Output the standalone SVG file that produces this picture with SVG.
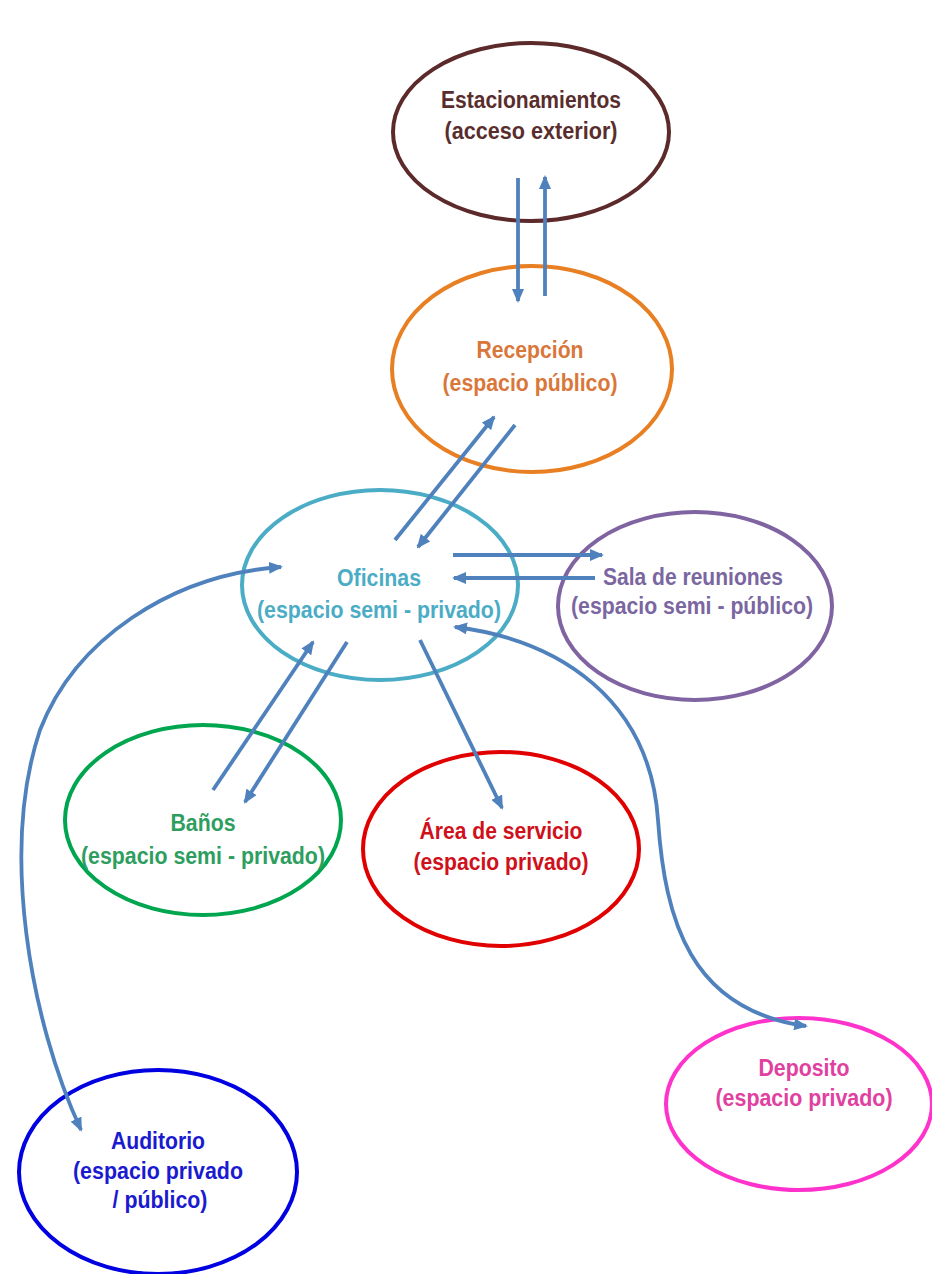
<svg xmlns="http://www.w3.org/2000/svg" width="932" height="1274" viewBox="0 0 932 1274">
<style>
.n{fill:none;stroke-width:4}
.t{font-family:"Liberation Sans Narrow","Arial Narrow","Liberation Sans",Arial,sans-serif;font-weight:bold;font-size:23px;text-anchor:middle}
.c{fill:none;stroke:#4f81bd;stroke-width:3.8;marker-end:url(#ah)}
.d{fill:none;stroke:#4f81bd;stroke-width:3.8;marker-end:url(#ah);marker-start:url(#ah)}
</style>
<defs>
<marker id="ah" markerUnits="userSpaceOnUse" viewBox="0 0 14 12" markerWidth="14" markerHeight="12" refX="12" refY="6" orient="auto-start-reverse">
<path d="M0,0 L14,6 L0,12 z" fill="#4f81bd"/>
</marker>
</defs>
<rect width="932" height="1274" fill="#ffffff"/>
<g id="estacionamientos">
<ellipse class="n" cx="531" cy="132" rx="138" ry="89" stroke="#5c2a2a"/>
<text class="t" x="531" y="108" fill="#5a2d2d" textLength="180" lengthAdjust="spacingAndGlyphs">Estacionamientos</text>
<text class="t" x="531" y="139" fill="#5a2d2d" textLength="173" lengthAdjust="spacingAndGlyphs">(acceso exterior)</text>
</g>
<g id="recepcion">
<ellipse class="n" cx="532" cy="369" rx="140" ry="103" stroke="#e87f22"/>
<text class="t" x="530" y="358" fill="#d9773a" textLength="107" lengthAdjust="spacingAndGlyphs">Recepción</text>
<text class="t" x="530" y="391" fill="#d9773a" textLength="175" lengthAdjust="spacingAndGlyphs">(espacio público)</text>
</g>
<g id="oficinas">
<ellipse class="n" cx="380" cy="585" rx="138" ry="95" stroke="#4bacc6" stroke-width="3.2"/>
<text class="t" x="379" y="586" fill="#4bacc6" textLength="84" lengthAdjust="spacingAndGlyphs">Oficinas</text>
<text class="t" x="379" y="618" fill="#4bacc6" textLength="244" lengthAdjust="spacingAndGlyphs">(espacio semi - privado)</text>
</g>
<g id="sala">
<ellipse class="n" cx="695" cy="606" rx="137" ry="94" stroke="#8064a2"/>
<text class="t" x="693" y="585" fill="#7a66a0" textLength="180" lengthAdjust="spacingAndGlyphs">Sala de reuniones</text>
<text class="t" x="692" y="614" fill="#7a66a0" textLength="242" lengthAdjust="spacingAndGlyphs">(espacio semi - público)</text>
</g>
<g id="banos">
<ellipse class="n" cx="203" cy="820" rx="138" ry="95" stroke="#00a550"/>
<text class="t" x="203" y="831" fill="#2e9e60" textLength="65" lengthAdjust="spacingAndGlyphs">Baños</text>
<text class="t" x="203" y="864" fill="#2e9e60" textLength="244" lengthAdjust="spacingAndGlyphs">(espacio semi - privado)</text>
</g>
<g id="area">
<ellipse class="n" cx="501" cy="849" rx="138" ry="97" stroke="#e00000"/>
<text class="t" x="501" y="839" fill="#d0101a" textLength="163" lengthAdjust="spacingAndGlyphs">Área de servicio</text>
<text class="t" x="501" y="870" fill="#d0101a" textLength="175" lengthAdjust="spacingAndGlyphs">(espacio privado)</text>
</g>
<g id="deposito">
<ellipse class="n" cx="799" cy="1104" rx="133" ry="86" stroke="#ff33cc"/>
<text class="t" x="804" y="1076" fill="#e040a0" textLength="91" lengthAdjust="spacingAndGlyphs">Deposito</text>
<text class="t" x="804" y="1106" fill="#e040a0" textLength="177" lengthAdjust="spacingAndGlyphs">(espacio privado)</text>
</g>
<g id="auditorio">
<ellipse class="n" cx="158" cy="1172" rx="139" ry="102" stroke="#0000e0" stroke-width="4.5"/>
<text class="t" x="158" y="1149" fill="#1a1ad0" textLength="94" lengthAdjust="spacingAndGlyphs">Auditorio</text>
<text class="t" x="158" y="1179" fill="#1a1ad0" textLength="170" lengthAdjust="spacingAndGlyphs">(espacio privado</text>
<text class="t" x="160" y="1208" fill="#1a1ad0" textLength="95" lengthAdjust="spacingAndGlyphs">/ público)</text>
</g>
<g id="connectors">
<path class="c" d="M518,178 L518,301"/>
<path class="c" d="M545,296 L545,177"/>
<path class="c" d="M395,540 L494,417"/>
<path class="c" d="M515,425 L418,547"/>
<path class="c" d="M453,555 L602,555"/>
<path class="c" d="M595,578 L454,578"/>
<path class="c" d="M213,790 L313,642"/>
<path class="c" d="M347,642 L245,802"/>
<path class="c" d="M420,640 L502,808"/>
<path class="d" d="M81,1130 C30,1020 0,850 40,730 C75,640 170,575 281,567"/>
<path class="d" d="M455,627 C560,640 650,700 658,820 C665,920 690,1010 806,1026"/>
</g>
</svg>
